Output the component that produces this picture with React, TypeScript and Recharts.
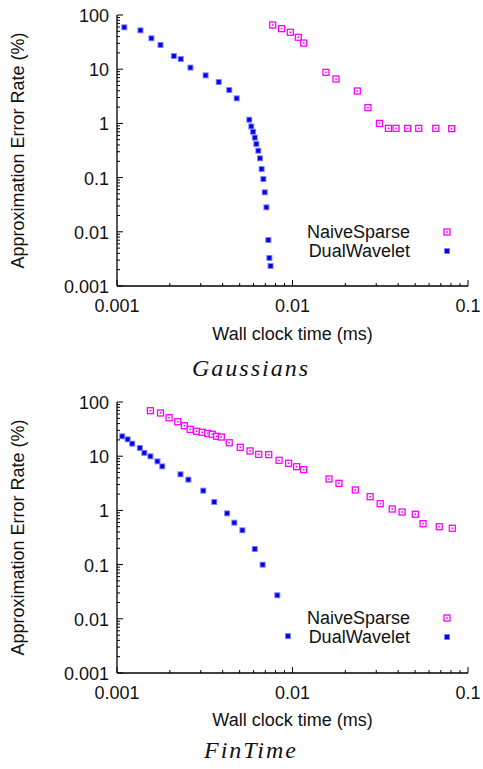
import { ScatterChart, Scatter, XAxis, YAxis, Legend, Label } from 'recharts';

const SANS = '"Liberation Sans", Arial, sans-serif';
const CAPTION_FONT = '"Liberation Serif", "Times New Roman", serif';

// tick values
const xMajorTicks = [0.001, 0.01, 0.1];
const yMajorTicks = [0.001, 0.01, 0.1, 1, 10, 100];
const minorSteps = [2, 3, 4, 5, 6, 7, 8, 9];

// Gaussians
const gaussDualTime = [0.0011, 0.00136, 0.00157, 0.00177, 0.00211, 0.00231, 0.00262, 0.0032, 0.0038, 0.00436, 0.00481, 0.00567, 0.00582, 0.00596, 0.0061, 0.00622, 0.00638, 0.00653, 0.00667, 0.00682, 0.00695, 0.0071, 0.00728, 0.00738, 0.0075];
const gaussDualErr = [59.3, 52.2, 37.2, 28.0, 17.5, 15.4, 10.7, 7.7, 5.8, 4.13, 2.9, 1.17, 0.88, 0.7, 0.545, 0.417, 0.313, 0.227, 0.144, 0.094, 0.0536, 0.0283, 0.00706, 0.00329, 0.00234];
const gaussNaiveTime = [0.00771, 0.00867, 0.00972, 0.01079, 0.01158, 0.01552, 0.0177, 0.0234, 0.0269, 0.0313, 0.0352, 0.0389, 0.0453, 0.0524, 0.0655, 0.0807];
const gaussNaiveErr = [65.4, 56, 48, 38.8, 30.4, 8.76, 6.6, 3.96, 1.95, 1.0, 0.81, 0.81, 0.81, 0.81, 0.81, 0.8];

// FinTime
const finDualTime = [0.00107, 0.00115, 0.00122, 0.00135, 0.00143, 0.00155, 0.0017, 0.00181, 0.0023, 0.00255, 0.0031, 0.00358, 0.00424, 0.00466, 0.00518, 0.0061, 0.00676, 0.00819, 0.00942];
const finDualErr = [23.3, 20.5, 17.0, 14.2, 11.5, 9.96, 8.03, 6.5, 4.64, 3.69, 2.31, 1.43, 0.883, 0.593, 0.43, 0.194, 0.0995, 0.0272, 0.0048];
const finNaiveTime = [0.00155, 0.00177, 0.00198, 0.00222, 0.00242, 0.00261, 0.00284, 0.00306, 0.00329, 0.00349, 0.0037, 0.00393, 0.00436, 0.00504, 0.00573, 0.00642, 0.00732, 0.00838, 0.0095, 0.01056, 0.01158, 0.01614, 0.0184, 0.0228, 0.0277, 0.0316, 0.037, 0.0421, 0.0501, 0.0554, 0.0686, 0.0814];
const finNaiveErr = [69.1, 62.7, 51.3, 43.3, 36.5, 31.3, 28.8, 27.6, 26.4, 25.4, 23.3, 22.6, 17.7, 14.6, 12.5, 10.8, 10.7, 8.4, 7.4, 6.4, 5.64, 3.8, 3.16, 2.38, 1.79, 1.33, 1.06, 0.933, 0.848, 0.569, 0.5, 0.468];

const seriesNames = ['NaiveSparse', 'DualWavelet'];

const toPoints = (xs: number[], ys: number[]) => xs.map((x, i) => ({ x, y: ys[i] }));

const withMinor = (majors: number[]) => {
  const out: number[] = [];
  majors.forEach((m, i) => {
    out.push(m);
    if (i < majors.length - 1) minorSteps.forEach((s) => out.push(+(m * s).toPrecision(6)));
  });
  return out;
};

const xTicks = withMinor(xMajorTicks);
const yTicks = withMinor(yMajorTicks);

const isMajor = (v: number) => {
  const l = Math.log10(v);
  return Math.abs(l - Math.round(l)) < 1e-6;
};

const AxisTick = (props: any) => {
  const { x, y, payload, side } = props;
  const major = isMajor(payload.value);
  const len = major ? 6 : 3;
  let x2 = x;
  let y2 = y;
  if (side === 'bottom') y2 = y - len;
  if (side === 'top') y2 = y + len;
  if (side === 'left') x2 = x + len;
  if (side === 'right') x2 = x - len;
  const text = String(payload.value);
  return (
    <g>
      <line x1={x} y1={y} x2={x2} y2={y2} stroke="#000" strokeWidth={1} />
      {major && side === 'bottom' && (
        <text x={x} y={y + 20} textAnchor="middle" dominantBaseline="central" fontFamily={SANS} fontSize={18} fill="#111">
          {text}
        </text>
      )}
      {major && side === 'left' && (
        <text x={x - 8} y={y + 1} textAnchor="end" dominantBaseline="central" fontFamily={SANS} fontSize={18} fill="#111">
          {text}
        </text>
      )}
    </g>
  );
};

const NaiveMarker = (props: any) => {
  const { cx, cy } = props;
  return (
    <g>
      <rect x={cx - 3} y={cy - 3} width={6} height={6} fill="#fff" stroke="#ff00ff" strokeWidth={1.3} />
      <rect x={cx - 0.8} y={cy - 0.8} width={1.6} height={1.6} fill="#ff00ff" />
    </g>
  );
};

const DualMarker = (props: any) => {
  const { cx, cy } = props;
  return (
    <g>
      <rect x={cx - 3} y={cy - 3} width={6} height={6} fill="#8080ff" />
      <rect x={cx - 2} y={cy - 2} width={4} height={4} fill="#0000ee" />
    </g>
  );
};

const markers: Record<string, any> = { NaiveSparse: NaiveMarker, DualWavelet: DualMarker };

const W = 483;
const PLOT_LEFT = 117;
const PLOT_RIGHT = 468;
const CAPTION_X = 251;

interface PanelProps {
  title: string;
  height: number;
  plotTop: number;
  plotBottom: number;
  naive: { x: number; y: number }[];
  dual: { x: number; y: number }[];
  labelDy: number;
  captionDy: number;
  legendTop: number;
}

function Panel({ title, height, plotTop, plotBottom, naive, dual, labelDy, captionDy, legendTop }: PanelProps) {
  const axisColor = '#000';
  const renderLegend = () => (
    <div style={{ position: 'relative', width: 0, height: 0 }}>
      {seriesNames.map((name, i) => {
        const M = markers[name];
        const cy = legendTop + i * 18.5;
        return (
          <div key={name}>
            <div
              style={{
                position: 'absolute',
                left: 0,
                top: cy - 10,
                width: 410,
                textAlign: 'right',
                fontFamily: SANS,
                fontSize: 18,
                lineHeight: '20px',
                color: '#111',
                whiteSpace: 'nowrap',
              }}
            >
              {name}
            </div>
            <svg style={{ position: 'absolute', left: 440, top: cy - 7 }} width={14} height={14}>
              <M cx={7} cy={7} />
            </svg>
          </div>
        );
      })}
    </div>
  );

  return (
    <ScatterChart
      width={W}
      height={height}
      margin={{ top: plotTop, right: W - PLOT_RIGHT, left: 17, bottom: 0 }}
    >
      <XAxis
        xAxisId="b"
        dataKey="x"
        type="number"
        scale="log"
        domain={[0.001, 0.1]}
        allowDataOverflow
        ticks={xTicks}
        interval={0}
        orientation="bottom"
        height={height - plotBottom}
        tickSize={0}
        tickMargin={0}
        tickLine={false}
        axisLine={{ stroke: axisColor, strokeWidth: 1.3 }}
        tick={<AxisTick side="bottom" />}
      >
        <Label
          content={(p: any) => {
            const vb = p.viewBox || {};
            const cx = (vb.x ?? PLOT_LEFT) + (vb.width ?? PLOT_RIGHT - PLOT_LEFT) / 2;
            return (
              <text x={cx} y={plotBottom + labelDy} textAnchor="middle" dominantBaseline="central" fontFamily={SANS} fontSize={18} fill="#111">
                Wall clock time (ms)
              </text>
            );
          }}
        />
        <Label
          content={() => (
            <text x={CAPTION_X} y={plotBottom + captionDy} textAnchor="middle" dominantBaseline="central" fontFamily={CAPTION_FONT} fontStyle="italic" fontSize={24} letterSpacing={2} fill="#111">
              {title}
            </text>
          )}
        />
      </XAxis>
      <XAxis
        xAxisId="t"
        type="number"
        scale="log"
        domain={[0.001, 0.1]}
        allowDataOverflow
        ticks={xTicks}
        interval={0}
        orientation="top"
        height={0}
        tickSize={0}
        tickMargin={0}
        tickLine={false}
        axisLine={{ stroke: axisColor, strokeWidth: 1.3 }}
        tick={<AxisTick side="top" />}
      />
      <YAxis
        yAxisId="l"
        dataKey="y"
        type="number"
        scale="log"
        domain={[0.001, 100]}
        allowDataOverflow
        ticks={yTicks}
        interval={0}
        orientation="left"
        width={PLOT_LEFT - 17}
        tickSize={0}
        tickMargin={0}
        tickLine={false}
        axisLine={{ stroke: axisColor, strokeWidth: 1.3 }}
        tick={<AxisTick side="left" />}
      >
        <Label
          content={() => {
            const cy = (plotTop + plotBottom) / 2;
            return (
              <text x={18} y={cy} transform={`rotate(-90, 18, ${cy})`} textAnchor="middle" dominantBaseline="central" fontFamily={SANS} fontSize={18} fill="#111">
                Approximation Error Rate (%)
              </text>
            );
          }}
        />
      </YAxis>
      <YAxis
        yAxisId="r"
        type="number"
        scale="log"
        domain={[0.001, 100]}
        allowDataOverflow
        ticks={yTicks}
        interval={0}
        orientation="right"
        width={0}
        tickSize={0}
        tickMargin={0}
        tickLine={false}
        axisLine={{ stroke: axisColor, strokeWidth: 1.3 }}
        tick={<AxisTick side="right" />}
      />
      <Legend
        content={renderLegend}
        wrapperStyle={{ left: 0, top: 0, width: 0, height: 0, position: 'absolute' }}
      />
      <Scatter
        name="NaiveSparse"
        data={naive}
        xAxisId="b"
        yAxisId="l"
        fill="#ff00ff"
        shape={(p: any) => <NaiveMarker {...p} />}
        isAnimationActive={false}
      />
      <Scatter
        name="DualWavelet"
        data={dual}
        xAxisId="b"
        yAxisId="l"
        fill="#0000ff"
        shape={(p: any) => <DualMarker {...p} />}
        isAnimationActive={false}
      />
    </ScatterChart>
  );
}

export default function App() {
  return (
    <div style={{ position: 'absolute', left: 0, top: 0, width: W, height: 769, background: '#fff', fontFamily: SANS }}>
      <div style={{ position: 'absolute', left: 0, top: 0 }}>
        <Panel
          title="Gaussians"
          height={390}
          plotTop={15}
          plotBottom={286}
          naive={toPoints(gaussNaiveTime, gaussNaiveErr)}
          dual={toPoints(gaussDualTime, gaussDualErr)}
          labelDy={48}
          captionDy={82}
          legendTop={232}
        />
      </div>
      <div style={{ position: 'absolute', left: 0, top: 390 }}>
        <Panel
          title="FinTime"
          height={379}
          plotTop={12}
          plotBottom={283}
          naive={toPoints(finNaiveTime, finNaiveErr)}
          dual={toPoints(finDualTime, finDualErr)}
          labelDy={47}
          captionDy={77}
          legendTop={228}
        />
      </div>
    </div>
  );
}
